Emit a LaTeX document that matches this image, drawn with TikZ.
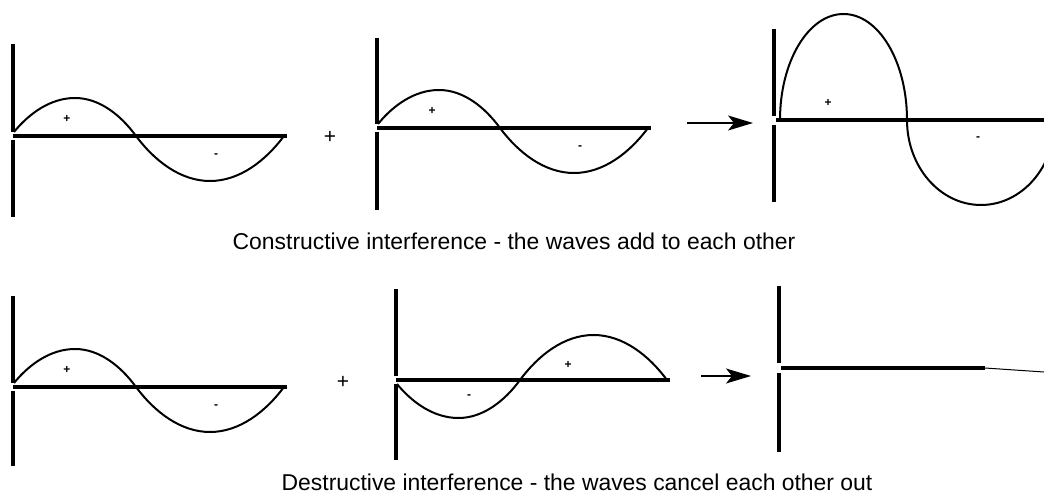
\documentclass[tikz,border=0pt]{standalone}
\usepackage{fontspec}
\setmainfont{Liberation Sans}
\usetikzlibrary{arrows.meta}
\tikzset{
  waxis/.style={line width=3.4pt, draw=black, line cap=butt},
  wcurve/.style={line width=2pt, draw=black},
  wthin/.style={line width=1pt, draw=black},
  warrow/.style={line width=1.6pt, draw=black, -{Stealth[length=25pt,width=15pt,inset=6pt]}},
  wsign/.style={font=\fontsize{12}{14}\selectfont\bfseries, inner sep=0pt},
  wplus/.style={font=\fontsize{21}{24}\selectfont, inner sep=0pt},
  wcaption/.style={font=\fontsize{22.9}{27}\selectfont, inner sep=0pt, anchor=base},
}
% half a wave: x0, y0, x1, y1, extreme y
\newcommand{\hwave}[5]{%
  (#1,#2) .. controls ({#1+0.125*(#3-#1)},{#2+0.55*(#5-#2)}) and ({(#1+#3)/2-0.2*(#3-#1)},#5) .. ({(#1+#3)/2},#5)
  .. controls ({(#1+#3)/2+0.2*(#3-#1)},#5) and ({#3-0.125*(#3-#1)},{#4+0.55*(#5-#4)}) .. (#3,#4)}

\begin{document}
\begin{tikzpicture}[x=1pt,y=-1pt]
\useasboundingbox (0,0) rectangle (1044,494);
\clip (0,0) rectangle (1044,494);
% constructive row
\draw[waxis] (13,44) -- (13,132);
\draw[waxis] (13,140) -- (13,217);
\draw[waxis] (13,136) -- (287,136);
\draw[wcurve] \hwave{14}{132}{136}{136}{98} \hwave{136}{136}{284}{136}{181};
\node[wsign] (cplusa) at (67,119) {+};
\node[wsign] (cminusa) at (216,156) {-};
\node[wplus] (cadd) at (330,137) {+};
\draw[waxis] (377,38) -- (377,124);
\draw[waxis] (377,132) -- (377,210);
\draw[waxis] (377,128) -- (651,128);
\draw[wcurve] \hwave{378}{124}{500}{128}{90} \hwave{500}{128}{648}{128}{173};
\node[wsign] (cplusb) at (432,111) {+};
\node[wsign] (cminusb) at (580,148) {-};
\coordinate (carrowstart) at (687,123);
\coordinate (carrowend) at (753,123);
\draw[warrow] (carrowstart) -- (carrowend);
\draw[waxis] (774,29) -- (774,116);
\draw[waxis] (774,125) -- (774,202);
\draw[waxis] (776,120) -- (1044,120);
\draw[wcurve] (780,120) arc[start angle=180, end angle=360, x radius=63.5, y radius=106]
  arc[start angle=180, end angle=0, x radius=74, y radius=85];
\node[wsign] (cplusc) at (828,103) {+};
\node[wsign] (cminusc) at (978,139) {-};
\node[wcaption] (ccaption) at (514,250) {Constructive interference - the waves add to each other};
% destructive row
\draw[waxis] (13,296) -- (13,383);
\draw[waxis] (13,391) -- (13,466);
\draw[waxis] (13,387) -- (287,387);
\draw[wcurve] \hwave{14}{383}{136}{387}{349} \hwave{136}{387}{284}{387}{432};
\node[wsign] (dplusa) at (67,370) {+};
\node[wsign] (dminusa) at (216,407) {-};
\node[wplus] (dadd) at (343,382) {+};
\draw[waxis] (396,289) -- (396,376);
\draw[waxis] (396,384) -- (396,460);
\draw[waxis] (396,380) -- (670,380);
\draw[wcurve] \hwave{397}{384}{520}{380}{418} \hwave{520}{380}{667}{380}{335};
\node[wsign] (dminusb) at (469,397) {-};
\node[wsign] (dplusb) at (568,365) {+};
\coordinate (darrowstart) at (701,376);
\coordinate (darrowend) at (751,376);
\draw[warrow] (darrowstart) -- (darrowend);
\draw[waxis] (779,286) -- (779,363);
\draw[waxis] (779,373) -- (779,452);
\draw[waxis] (781,368) -- (985,368);
\draw[wthin] (985,368) -- (1044,372);
\node[wcaption] (dcaption) at (577,490) {Destructive interference - the waves cancel each other out};
\end{tikzpicture}
\end{document}
